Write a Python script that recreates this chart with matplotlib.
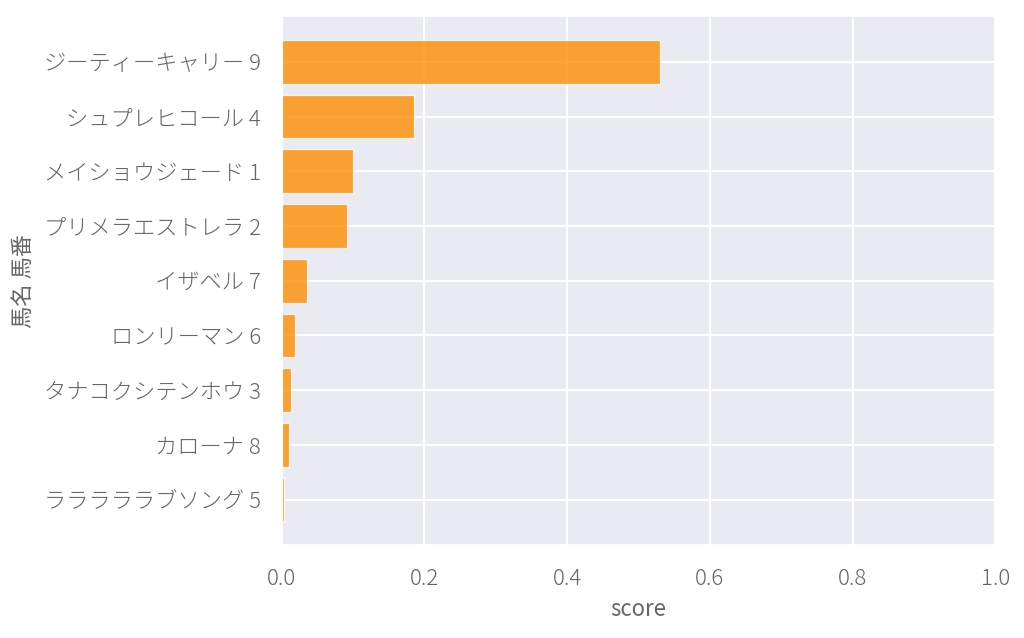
import matplotlib
matplotlib.use("Agg")
import matplotlib.pyplot as plt
import seaborn as sns

horse_labels = ["ジーティーキャリー 9", "シュプレヒコール 4", "メイショウジェード 1",
                "プリメラエストレラ 2", "イザベル 7", "ロンリーマン 6",
                "タナコクシテンホウ 3", "カローナ 8", "ラララララブソング 5"]
scores = [0.530, 0.185, 0.100, 0.092, 0.036, 0.019, 0.013, 0.011, 0.004]

sns.set_theme(style="darkgrid")
plt.rcParams["font.family"] = ["Noto Sans CJK JP", "DejaVu Sans"]
plt.rcParams["font.weight"] = "light"
plt.rcParams["text.color"] = "#666666"
plt.rcParams["xtick.color"] = "#666666"
plt.rcParams["ytick.color"] = "#666666"
plt.rcParams["axes.labelcolor"] = "#666666"
plt.rcParams["grid.linewidth"] = 1.5

fig, ax = plt.subplots(figsize=(10.24, 6.38), dpi=100)
fig.subplots_adjust(left=0.275, right=0.972, top=0.975, bottom=0.145)

pos = list(range(len(horse_labels)))
ax.barh(pos, scores, height=0.8, color="darkorange", alpha=0.8,
        edgecolor="white", linewidth=0.9)
ax.set_yticks(pos)
ax.set_yticklabels(horse_labels, fontsize=16)
ax.invert_yaxis()
ax.set_xlim(0, 1.0)
ax.set_xticks([0.0, 0.2, 0.4, 0.6, 0.8, 1.0])
ax.tick_params(axis="x", labelsize=16, pad=10)
ax.tick_params(axis="y", pad=9)
ax.set_xlabel("score", fontsize=16, labelpad=6)
ax.set_ylabel("馬名 馬番", fontsize=16, labelpad=6)

plt.savefig("out.png", dpi=100)
